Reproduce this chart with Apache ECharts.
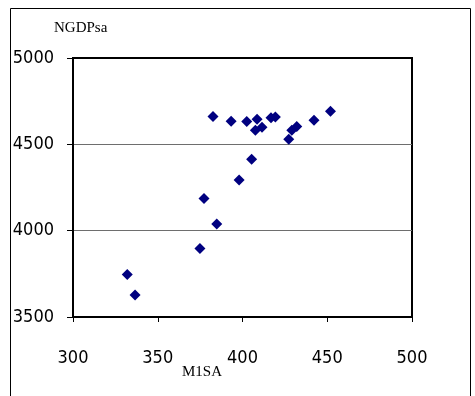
<!DOCTYPE html>
<html>
<head>
<meta charset="utf-8">
<script src="https://cdn.jsdelivr.net/npm/echarts@6/dist/echarts.min.js"></script>
<style>
  html, body { margin: 0; padding: 0; background: #fff; }
  #chart { width: 475px; height: 396px; }
</style>
</head>
<body>
<div id="chart"></div>
<script>
// M1SA (x) vs NGDPsa (y)
const m1sa = [382.6, 393.3, 402.5, 408.6, 407.6, 411.5, 416.8, 419.4, 427.3, 429.1,
  432.0, 442.2, 451.9, 405.4, 398.0, 377.3, 384.8, 374.9, 332.0, 336.6]
const ngdpsa = [4661, 4633, 4632, 4645, 4581, 4599, 4654, 4659, 4529, 4581,
  4603, 4640, 4691, 4414, 4294, 4187, 4038, 3897, 3746, 3628]
const xTicks = [300, 350, 400, 450, 500]
const yTicks = [3500, 4000, 4500, 5000]

const points = m1sa.map((x, i) => [x, ngdpsa[i]])

const tickFont = '"DejaVu Sans Condensed", "Liberation Sans Narrow", sans-serif'
const nameFont = '"Liberation Serif", "DejaVu Serif", serif'

const chart = echarts.init(document.getElementById('chart'), null, { renderer: 'canvas' })

const option = {
  animation: false,
  backgroundColor: '#fff',
  grid: {
    left: 73, top: 58, right: 63, bottom: 79,
    show: true, borderColor: '#000', borderWidth: 2, backgroundColor: '#fff'
  },
  xAxis: {
    type: 'value',
    min: xTicks[0], max: xTicks[xTicks.length - 1], interval: 50,
    axisLine: { show: true, lineStyle: { color: '#000', width: 2 } },
    axisTick: { show: true, length: 5, lineStyle: { color: '#000' } },
    axisLabel: { fontFamily: tickFont, fontSize: 18, color: '#000', margin: 32, formatter: v => String(v) },
    splitLine: { show: false }
  },
  yAxis: {
    type: 'value',
    min: yTicks[0], max: yTicks[yTicks.length - 1], interval: 500,
    axisLine: { show: true, lineStyle: { color: '#000', width: 2 } },
    axisTick: { show: true, length: 6, lineStyle: { color: '#000' } },
    axisLabel: { fontFamily: tickFont, fontSize: 18, color: '#000', margin: 19, formatter: v => String(v) },
    splitLine: { show: true, lineStyle: { color: ['#000', '#6e6e6e', '#6e6e6e', '#000'], width: 1 } }
  },
  graphic: [
    {
      type: 'rect', z: -1, silent: true,
      shape: { x: 10.5, y: 8.5, width: 460, height: 400 },
      style: { fill: null, stroke: '#000', lineWidth: 1 }
    },
    {
      type: 'text', left: 54, top: 21,
      style: { text: 'NGDPsa', font: '15px ' + nameFont, fill: '#000' }
    },
    {
      type: 'text', left: 182, top: 365,
      style: { text: 'M1SA', font: '15px ' + nameFont, fill: '#000' }
    }
  ],
  series: [
    {
      type: 'scatter',
      data: points,
      symbol: 'diamond',
      symbolSize: 11,
      itemStyle: { color: '#000080', opacity: 1 }
    }
  ]
}

chart.setOption(option)
window.addEventListener('resize', () => { chart.resize() })
</script>
</body>
</html>
